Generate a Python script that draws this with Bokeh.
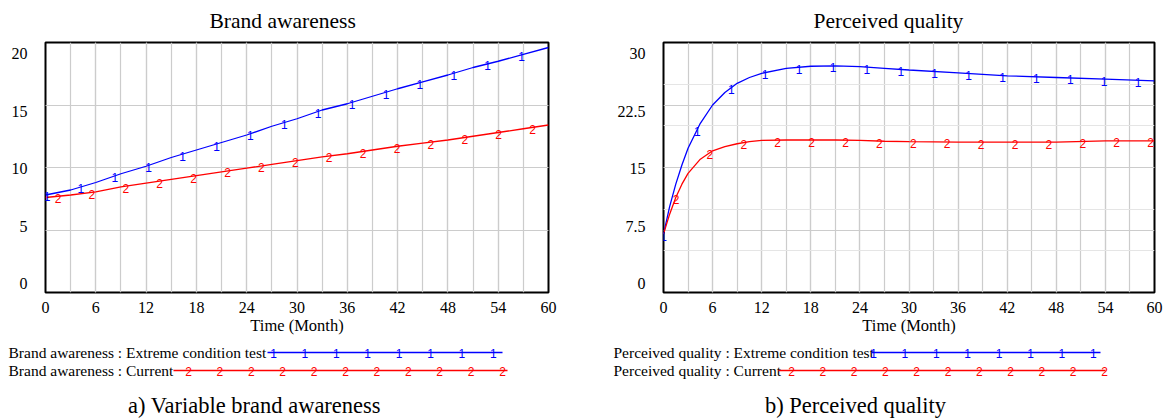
import numpy as np
from bokeh.plotting import figure
from bokeh.layouts import row, column
from bokeh.models import Range1d, FixedTicker, Grid, LinearAxis
from bokeh.core.properties import value
from bokeh.embed import file_html
from bokeh.resources import INLINE

# ---------------- data ----------------
ba_months = [0, 3, 6, 9, 12, 15, 18, 21, 24, 27, 30, 33, 36, 39, 42, 45, 48, 51, 54, 57, 60]
ba_extreme = [7.8, 8.2, 8.8, 9.5, 10.1, 10.8, 11.4, 12.0, 12.6, 13.3, 13.9, 14.6, 15.1,
              15.7, 16.3, 16.85, 17.4, 18.0, 18.5, 19.05, 19.6]
ba_current = [7.6, 7.8, 8.05, 8.45, 8.75, 9.05, 9.35, 9.65, 9.95, 10.25, 10.55, 10.85, 11.1,
              11.4, 11.7, 11.95, 12.2, 12.5, 12.8, 13.1, 13.4]

pq_months = [0, 0.75, 1.5, 2.25, 3, 4.5, 6, 7.5, 9, 10.5, 12, 15, 18, 21, 24, 27, 30, 36, 42, 48, 54, 60]
pq_extreme = [7.0, 10.3, 13.0, 15.3, 17.3, 20.3, 22.5, 24.0, 25.1, 25.8, 26.3, 26.9, 27.15,
              27.2, 27.1, 26.9, 26.7, 26.35, 26.0, 25.8, 25.6, 25.4]
pq_current = [7.0, 9.4, 11.4, 13.0, 14.3, 16.0, 17.0, 17.5, 17.85, 18.1, 18.25, 18.3, 18.3,
              18.3, 18.25, 18.15, 18.1, 18.05, 18.05, 18.05, 18.2, 18.2]

x_ticks = [0, 6, 12, 18, 24, 30, 36, 42, 48, 54, 60]
x_minor = [0, 3, 6, 9, 12, 15, 18, 21, 24, 27, 30, 33, 36, 39, 42, 45, 48, 51, 54, 57, 60]
ba_y_ticks = [0, 5, 10, 15, 20]
ba_y_labels = ["0", "5", "10", "15", "20"]
pq_y_ticks = [0, 7.5, 15, 22.5, 30]
pq_y_labels = ["0", "7.5", "15", "22.5", "30"]

x_label = "Time (Month)"
ba_title = "Brand awareness"
pq_title = "Perceived quality"
ba_legend = ["Brand awareness : Extreme condition test", "Brand awareness : Current"]
pq_legend = ["Perceived quality : Extreme condition test", "Perceived quality : Current"]
ba_caption = "a) Variable brand awareness"
pq_caption = "b) Perceived quality"

# ---------------- style ----------------
SERIF = "Liberation Serif"
SANS = "Liberation Sans"
BLUE = "#0000ff"
RED = "#ff0000"
GRID = "#cccccc"
FRAME_H = 250
HEAD_H = 34
TOP_B = 8
BOT_B = 50
FOOT_H = 419 - HEAD_H - TOP_B - FRAME_H - BOT_B
FOOT_TOP = HEAD_H + TOP_B + FRAME_H + BOT_B
MARK_SIZE = "12px"


def pixel_fig(w, h):
    f = figure(width=w, height=h, x_range=Range1d(0, w), y_range=Range1d(0, h),
               x_axis_location=None, y_axis_location=None, output_backend="svg",
               toolbar_location=None, min_border=0, frame_align=False)
    f.outline_line_color = None
    f.xgrid.visible = False
    f.ygrid.visible = False
    f.background_fill_color = "white"
    f.border_fill_color = "white"
    return f


def make_chart(fw, border_left, border_right, months, ext, cur, y_ticks, y_labels,
               blue_off_px):
    ymax = y_ticks[-1]
    p = figure(frame_width=fw, frame_height=FRAME_H, x_range=Range1d(0, 60),
               y_range=Range1d(0, ymax), y_axis_location=None,
               output_backend="svg", toolbar_location=None, title=None,
               min_border_left=border_left, min_border_right=border_right,
               min_border_top=TOP_B, min_border_bottom=BOT_B, frame_align=False)
    p.background_fill_color = "white"
    p.border_fill_color = "white"
    p.outline_line_color = "black"
    p.outline_line_width = 2
    p.outline_line_alpha = 1

    ax = p.xaxis[0]
    ax.ticker = FixedTicker(ticks=x_ticks, minor_ticks=x_minor)
    ax.axis_line_color = None
    ax.major_tick_line_color = None
    ax.minor_tick_line_color = None
    ax.major_label_text_font = SERIF
    ax.major_label_text_font_size = "16px"
    ax.major_label_text_color = "black"
    ax.major_label_standoff = 3
    ax.axis_label = x_label
    ax.axis_label_text_font = SERIF
    ax.axis_label_text_font_size = "16.5px"
    ax.axis_label_text_font_style = "normal"
    ax.axis_label_text_color = "black"
    ax.axis_label_standoff = 0

    g = p.xgrid[0]
    g.grid_line_color = GRID
    g.grid_line_width = 1.2
    g.minor_grid_line_color = GRID
    g.minor_grid_line_width = 1.2
    p.add_layout(Grid(dimension=1, ticker=FixedTicker(ticks=y_ticks), grid_line_color=GRID,
                      grid_line_width=1.2))

    # y labels: spread inside the range like the original software does
    ppu = FRAME_H / ymax
    pos = [round(t + (9 - 5 * i) / ppu, 6) for i, t in enumerate(y_ticks)]
    yax = LinearAxis(ticker=FixedTicker(ticks=pos),
                     major_label_overrides={pp: lab for pp, lab in zip(pos, y_labels)},
                     axis_line_color=None, major_tick_line_color=None,
                     minor_tick_line_color=None, major_label_standoff=12,
                     major_label_text_font=SERIF, major_label_text_font_size="16px",
                     major_label_text_color="black")
    p.add_layout(yax, "left")

    p.line(months, ext, line_color=BLUE, line_width=1.3)
    p.line(months, cur, line_color=RED, line_width=1.3)

    ppm = fw / 60.0
    step = 33.9 / ppm
    bt = np.arange(blue_off_px / ppm, 60.0, step)
    rt = np.arange(12.5 / ppm, 60.0, step)
    p.text(bt, np.interp(bt, months, ext), text=["1"] * len(bt), text_color=BLUE,
           text_font=value(SANS), text_font_size=MARK_SIZE, text_align="center",
           text_baseline="middle", y_offset=2)
    p.text(rt, np.interp(rt, months, cur), text=["2"] * len(rt), text_color=RED,
           text_font=value(SANS), text_font_size=MARK_SIZE, text_align="center",
           text_baseline="middle", y_offset=2)
    return p


def make_head(w, title, tx):
    h = pixel_fig(w, HEAD_H)
    h.text([tx], [HEAD_H - 20], text=[title], text_font=value(SERIF), text_font_size="21.5px",
           text_color="black", text_align="left", text_baseline="middle")
    return h


def make_foot(w, legend, lx, leg_geo, caption, cx):
    f = pixel_fig(w, FOOT_H)
    y1 = FOOT_H - (352 - FOOT_TOP)
    y2 = FOOT_H - (370 - FOOT_TOP)
    yc = FOOT_H - (405 - FOOT_TOP)
    f.text([lx, lx], [y1, y2], text=legend, text_font=value(SERIF), text_font_size="15.5px",
           text_color="black", text_align="left", text_baseline="middle")
    (b0, b1, bm, bn), (r0, r1, rm, rn, rs) = leg_geo
    f.line([b0, b1], [y1, y1], line_color=BLUE, line_width=1.3)
    f.line([r0, r1], [y2, y2], line_color=RED, line_width=1.3)
    bx = [bm + 31.4 * i for i in range(bn)]
    rx = [rm + rs * i for i in range(rn)]
    f.text(bx, [y1] * bn, text=["1"] * bn, text_color=BLUE, text_font=value(SANS),
           text_font_size=MARK_SIZE, text_align="center", text_baseline="middle", y_offset=1)
    f.text(rx, [y2] * rn, text=["2"] * rn, text_color=RED, text_font=value(SANS),
           text_font_size=MARK_SIZE, text_align="center", text_baseline="middle", y_offset=1)
    f.text([cx], [yc], text=[caption], text_font=value(SERIF), text_font_size="22.5px",
           text_color="black", text_align="center", text_baseline="middle")
    return f


LW, RW = 600, 568
p1 = make_chart(503, 45, 52, ba_months, ba_extreme, ba_current, ba_y_ticks, ba_y_labels, 1.5)
p2 = make_chart(491, 63, 14, pq_months, pq_extreme, pq_current, pq_y_ticks, pq_y_labels, 0.0)
h1 = make_head(LW, ba_title, 209)
h2 = make_head(RW, pq_title, 213)
f1 = make_foot(LW, ba_legend, 8, ((267, 502, 273, 8), (173, 507, 188, 11, 31.4)), ba_caption, 254)
f2 = make_foot(RW, pq_legend, 13, ((271, 500, 273, 8), (178, 505, 191, 11, 31.3)), pq_caption, 255)

layout = row(column(h1, p1, f1), column(h2, p2, f2))
open("out.html", "w").write(file_html(layout, INLINE))
